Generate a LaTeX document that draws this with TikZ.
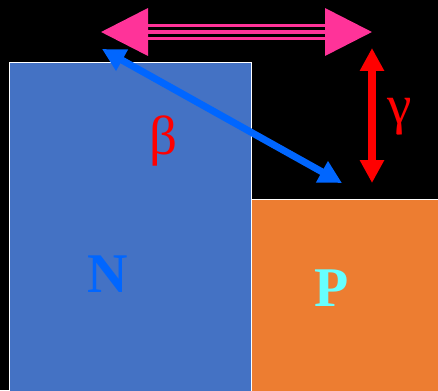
\documentclass[tikz,border=0pt]{standalone}
\usepackage{fontspec}
\setmainfont{Liberation Serif}
\usetikzlibrary{arrows.meta,positioning}
\definecolor{nblue}{HTML}{4472C4}
\definecolor{porange}{HTML}{ED7D31}
\definecolor{hotpink}{HTML}{FF3399}
\definecolor{brightblue}{HTML}{0066FF}
\definecolor{pcyan}{HTML}{66FFFF}

\begin{document}
\begin{tikzpicture}[x=1pt,y=-1pt,
   region/.style={draw=white,line width=1pt,anchor=north west,inner sep=0pt},
   bigletter/.style={font=\fontsize{56}{60}\selectfont\bfseries},
   greek/.style={font=\fontsize{55}{58}\selectfont,text=red}]
  \fill[black] (0,0) rectangle (438,390);
  \useasboundingbox (0,0) rectangle (438,390);
  % the two blocks
  \node[region,fill=nblue,minimum width=242pt,minimum height=340pt] (nreg) at (9,62) {};
  \node[region,fill=porange,minimum width=200pt,minimum height=200pt] (preg) at (250.5,199) {};
  \node[bigletter,text=brightblue] (N) at (108,274) {N};
  \node[bigletter,text=pcyan] (P) at (332,288) {P};
  \node[greek] (beta) at (163,141) {β};
  \node[greek] (gamma) at (400,117) {γ};
  % arrow ends
  \coordinate (pl) at (101,32);
  \coordinate (pr) at (372,32);
  \coordinate (bl) at (102,49);
  \coordinate (br) at (342,183);
  \coordinate (rt) at (372,48);
  \coordinate (rb) at (372,183);
  \draw[hotpink,line width=2.6pt,double=black,double distance=10pt,
        shorten <=46pt,shorten >=46pt] (pl) -- (pr);
  \draw[hotpink,line width=3.7pt,{Triangle[length=47pt,width=47pt]}-{Triangle[length=47pt,width=47pt]}] (pl) -- (pr);
  \draw[brightblue,line width=7pt,{Triangle[length=23pt,width=23pt]}-{Triangle[length=23pt,width=23pt]}] (bl) -- (br);
  \draw[red,line width=8pt,{Triangle[length=23pt,width=23pt]}-{Triangle[length=23pt,width=23pt]}] (rt) -- (rb);
\end{tikzpicture}
\end{document}
